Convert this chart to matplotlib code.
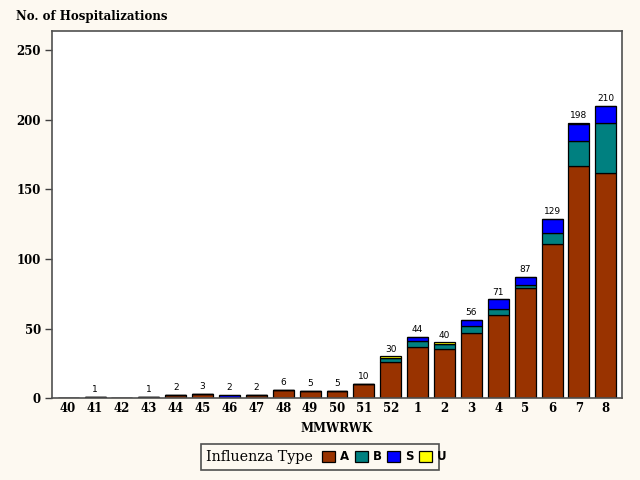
import matplotlib
matplotlib.use('Agg')
import matplotlib.pyplot as plt
from matplotlib.patches import Patch, Rectangle
import numpy as np

weeks = ['40', '41', '42', '43', '44', '45', '46', '47', '48', '49', '50', '51',
         '52', '1', '2', '3', '4', '5', '6', '7', '8']
type_a = [0, 1, 0, 1, 2, 3, 0, 2, 6, 5, 5, 10, 26, 37, 35, 47, 60, 79, 111, 167, 162]
type_b = [0, 0, 0, 0, 0, 0, 0, 0, 0, 0, 0, 0, 3, 4, 4, 5, 4, 2, 8, 18, 36]
type_s = [0, 0, 0, 0, 0, 0, 2, 0, 0, 0, 0, 0, 0, 3, 0, 4, 7, 6, 10, 12, 12]
type_u = [0, 0, 0, 0, 0, 0, 0, 0, 0, 0, 0, 0, 1, 0, 1, 0, 0, 0, 0, 1, 0]

series = [('A', type_a, '#993300'), ('B', type_b, '#008080'),
          ('S', type_s, '#0000ff'), ('U', type_u, '#ffff00')]

bg = '#fdf9f1'
fig = plt.figure(figsize=(6.4, 4.8), dpi=100, facecolor=bg)
ax = fig.add_axes([0.08125, 0.1708, 0.8906, 0.7646])
ax.set_facecolor('white')

x = np.arange(len(weeks))
bottom = np.zeros(len(weeks))
for name, vals, col in series:
    vals = np.array(vals, dtype=float)
    ax.bar(x, vals, 0.78, bottom=bottom, color=col, edgecolor='black',
           linewidth=0.9, label=name)
    bottom += vals

for xi, tot in zip(x, bottom):
    if tot > 0:
        ax.text(xi, tot + 2, '%d' % tot, ha='center', va='bottom',
                fontsize=6.5, family='DejaVu Sans')

ax.set_xlim(-0.6, len(weeks) - 0.4)
ax.set_ylim(0, 264)
ax.set_yticks([0, 50, 100, 150, 200, 250])
ax.set_xticks(x)
ax.set_xticklabels(weeks)
ax.tick_params(axis='x', length=0, pad=3)
ax.tick_params(axis='y', length=5, width=1, color='#404040', pad=3)
for lab in ax.get_xticklabels() + ax.get_yticklabels():
    lab.set_family('DejaVu Serif')
    lab.set_fontweight('bold')
    lab.set_fontsize(8.5)
for sp in ax.spines.values():
    sp.set_color('#505050')
    sp.set_linewidth(1.2)

ax.set_xlabel('MMWRWK', family='DejaVu Serif', fontweight='bold',
              fontsize=8.5, labelpad=5)
fig.text(0.025, 0.965, 'No. of Hospitalizations', family='DejaVu Serif',
         fontweight='bold', fontsize=8.5, va='center', ha='left')

# legend box
fig.patches.append(Rectangle((201 / 640, 1 - 470 / 480), 238 / 640, 26 / 480,
                             transform=fig.transFigure, facecolor='none',
                             edgecolor='#505050', linewidth=1.2))
fig.text(206 / 640, 1 - 457 / 480, 'Influenza Type', family='DejaVu Serif',
         fontsize=10.3, va='center', ha='left')
handles = [Patch(facecolor=c, edgecolor='black', linewidth=0.9) for _, _, c in series]
leg = fig.legend(handles, [n for n, _, _ in series], ncol=4, frameon=False,
                 loc='center left', bbox_to_anchor=(322 / 640, 1 - 457 / 480),
                 handlelength=1.1, handleheight=1.1, handletextpad=0.4,
                 columnspacing=0.5, borderpad=0, borderaxespad=0,
                 prop={'family': 'DejaVu Sans', 'weight': 'bold', 'size': 8.5})

fig.savefig('out.png', dpi=100, facecolor=bg)
